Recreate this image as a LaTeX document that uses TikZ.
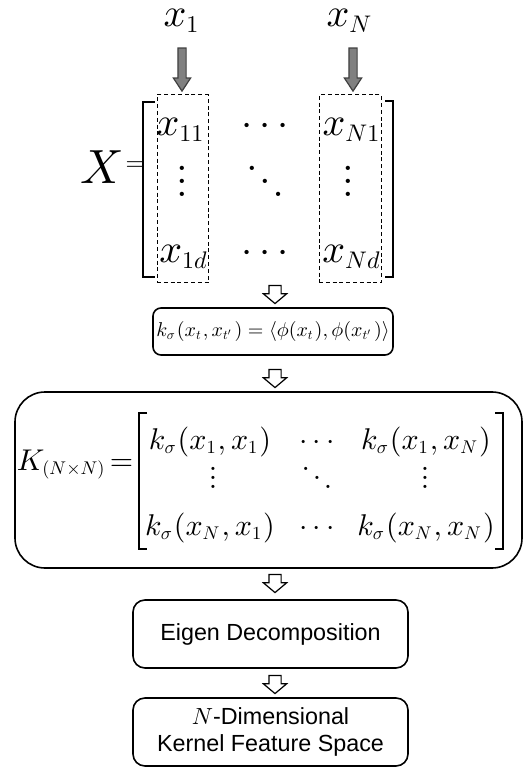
\RequirePackage{fix-cm}
\documentclass[tikz,border=0pt]{standalone}
\usepackage{graphicx}
\usepackage{fontspec}
\newfontfamily\arialfont{Liberation Sans}
\usetikzlibrary{shapes.arrows,positioning}

% one design size for all math, scaled linearly
\DeclareFontShape{OML}{cmm}{m}{it}{<->cmmi10}{\skewchar\font'177}
\DeclareFontShape{OMS}{cmsy}{m}{n}{<->cmsy10}{\skewchar\font'60}
\DeclareFontShape{OT1}{cmr}{m}{n}{<->cmr10}{}
\DeclareMathSizes{12}{12}{7}{5}
\DeclareMathSizes{10}{10}{6}{4.5}
\DeclareMathSizes{7.5}{7.5}{4.6}{3.5}
\DeclareMathSizes{5}{5}{3.3}{2.5}
\newcommand{\mathsize}[1]{\fontsize{#1}{#1}\selectfont}
% dots with chosen spacing
\newcommand{\vdotz}[1]{\vbox{\baselineskip#1\lineskiplimit0pt\hbox{$.$}\hbox{$.$}\hbox{$.$}}}
\newcommand{\ddotz}[2]{\hbox{\raise\dimexpr2\dimexpr#2\relax\relax\hbox{$.$}\kern#1\raise#2\hbox{$.$}\kern#1\hbox{$.$}}}

\begin{document}
\begin{tikzpicture}[
			x=0.25pt, y=-0.25pt,
			block/.style={
				draw,
				line width=0.4pt,
				rounded corners=3pt,
				minimum width=68.75pt,
				minimum height=17pt,
				inner sep=0pt,
				align=center,
				font=\arialfont\fontsize{5.83}{6.6}\selectfont
			},
			hollow/.style={
				single arrow,
				draw,
				fill=white,
				line width=0.3pt,
				shape border rotate=270,
				inner sep=1.375pt,
				single arrow head extend=1.375pt,
				single arrow tip angle=100,
				minimum height=4.5pt
			},
			feeder/.style={
				single arrow,
				draw=black!75,
				fill=gray,
				line width=0.3pt,
				shape border rotate=270,
				inner sep=0.875pt,
				single arrow head extend=1.125pt,
				single arrow tip angle=67,
				minimum height=10.75pt
			},
			colbox/.style={draw, line width=0.25pt, dash pattern=on 1pt off 0.7pt},
			bracket/.style={line width=0.5pt},
			entry/.style={anchor=base, inner sep=0pt, font=\mathsize{10}},
			kentry/.style={anchor=base, inner sep=0pt, font=\mathsize{7.5}}
			]

			\useasboundingbox (0,0) rectangle (532,769);

			% Column labels and feeding arrows
			\node[entry] (lx1) at (182,27) {$x_1$};
			\node[entry] (lxN) at (350,27) {$x_N$};
			\node[feeder] (f1) at (182,66.5) {};
			\node[feeder] (fN) at (353,66.5) {};

			% Data matrix X
			\node[anchor=base east, inner sep=0pt, font=\mathsize{12}] (X) at (125,184) {$X$};
			\node[inner sep=0pt, font=\mathsize{6}] (eqX) at (135,166) {$=$};
			\draw[bracket] (155,102) -- (143,102) -- (143,277) -- (155,277);
			\draw[bracket] (385,101) -- (393,101) -- (393,277) -- (385,277);

			\node[colbox, minimum width=12.75pt, minimum height=47pt] (col1) at (182.5,189) {};
			\node[colbox, minimum width=15.5pt, minimum height=47pt] (colN) at (350,189) {};

			\node[entry] (x11) at (181,136) {$x_{11}$};
			\node[entry] (xc1) at (265,136) {$\cdots$};
			\node[entry] (xN1) at (352,136) {$x_{N1}$};
			\node[entry] (xv1) at (182,197) {\vdotz{3.25pt}};
			\node[entry] (xdd) at (265,197) {\ddotz{0.5pt}{3.25pt}};
			\node[entry] (xvN) at (348,197) {\vdotz{3.25pt}};
			\node[entry] (x1d) at (184,263) {$x_{1d}$};
			\node[entry] (xcd) at (265,263) {$\cdots$};
			\node[entry] (xNd) at (352,263) {$x_{Nd}$};

			\node[hollow] (h1) at (275,292) {};

			% Kernel function
			\node[draw, line width=0.4pt, rounded corners=2pt, minimum width=60pt,
			minimum height=11.75pt, inner sep=0pt, font=\mathsize{5}] (kern) at (273,331.5)
			{$k_\sigma(x_t,x_{t'}) = \langle \phi(x_t),\phi(x_{t'})\rangle$};

			\node[hollow] (h2) at (275,376) {};

			% Kernel matrix K
			\node[draw, line width=0.4pt, rounded corners=7.5pt, minimum width=126.75pt,
			minimum height=44pt] (gram) at (268.5,480) {};
			\node[anchor=base east, inner sep=0pt, font=\mathsize{7.5}] (Klab) at (134,470)
			{$K_{(N\times N)}\!=$};
			\draw[bracket] (147,413) -- (139,413) -- (139,549) -- (147,549);
			\draw[bracket] (495,413) -- (503,413) -- (503,549) -- (495,549);

			\node[kentry] (k11) at (210,449) {$k_\sigma(x_1,x_1)$};
			\node[kentry] (kc1) at (317,449) {$\cdots$};
			\node[kentry] (k1N) at (426,449) {$k_\sigma(x_1,x_N)$};
			\node[kentry] (kv1) at (213,488) {\vdotz{2.25pt}};
			\node[kentry] (kdd) at (317,488) {\ddotz{0.7pt}{2.25pt}};
			\node[kentry] (kvN) at (425,488) {\vdotz{2.25pt}};
			\node[kentry] (kN1) at (210,535) {$k_\sigma(x_N,x_1)$};
			\node[kentry] (kcN) at (317,535) {$\cdots$};
			\node[kentry] (kNN) at (426,535) {$k_\sigma(x_N,x_N)$};

			\node[hollow] (h3) at (275,581) {};

			% Decomposition and feature space
			\node[block] (eigen) at (270.5,634) {Eigen Decomposition};

			\node[hollow] (h4) at (275,682) {};

			\node[block] (feat) at (270.5,732) {$N$-Dimensional\\Kernel Feature Space};

		\end{tikzpicture}
\end{document}
